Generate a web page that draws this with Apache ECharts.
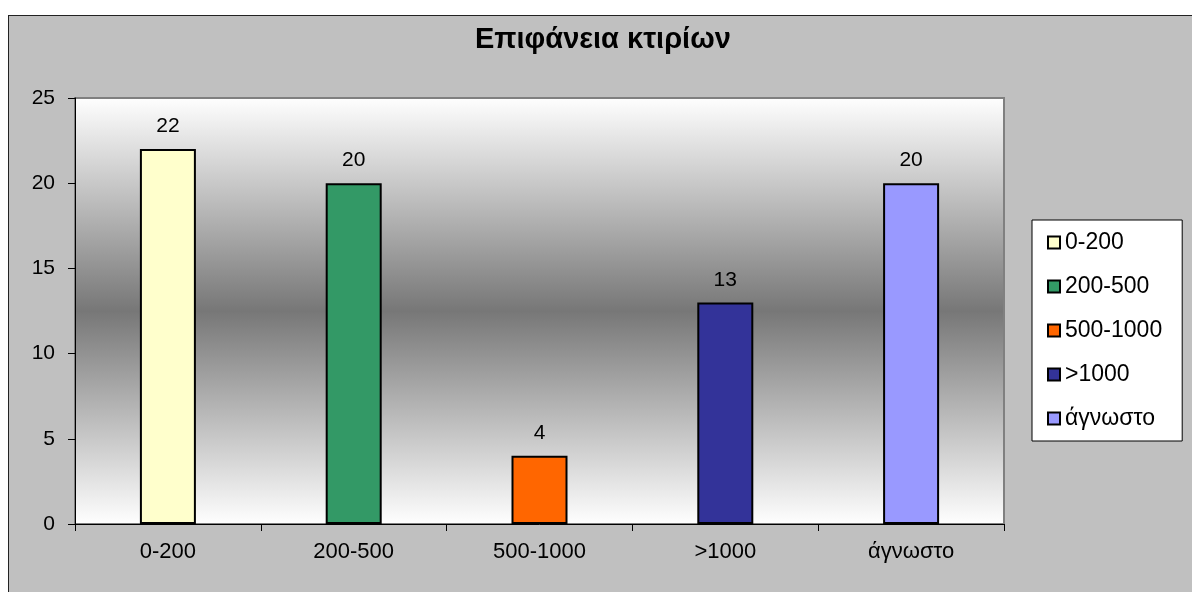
<!DOCTYPE html>
<html>
<head>
<meta charset="utf-8">
<script src="https://cdn.jsdelivr.net/npm/echarts@6/dist/echarts.min.js"></script>
<style>
  html, body { margin: 0; padding: 0; width: 1192px; height: 592px; overflow: hidden; background: #ffffff; }
  #frame { position: absolute; left: 8px; top: 15px; width: 1200px; height: 600px; border: 1px solid #222; background: #c0c0c0; }
  #chart { width: 1200px; height: 600px; }
</style>
</head>
<body>
<div id="frame"><div id="chart"></div></div>
<script>
const title = 'Επιφάνεια κτιρίων';
const categories = ['0-200', '200-500', '500-1000', '>1000', 'άγνωστο'];
const values = [22, 20, 4, 13, 20];
const colors = ['#FFFFCC', '#339966', '#FF6600', '#333399', '#9999FF'];
const yTicks = { min: 0, max: 25, interval: 5 };

const font = 'Liberation Sans, Arial, sans-serif';
const chart = echarts.init(document.getElementById('chart'));

const series = categories.map((name, i) => ({
  name: name,
  type: 'bar',
  stack: 'all',
  barWidth: 56,
  data: categories.map((c, j) => (j === i ? values[i] : '-')),
  itemStyle: { color: colors[i], borderColor: '#000', borderWidth: 2 },
  label: {
    show: true, position: 'top', distance: 12,
    color: '#000', fontSize: 21, fontFamily: font
  }
}));

chart.setOption({
  animation: false,
  backgroundColor: 'transparent',
  title: {
    text: title, left: 461, top: 4,
    textStyle: { fontSize: 29, fontWeight: 'bold', color: '#000', fontFamily: font }
  },
  legend: {
    orient: 'vertical', left: 1023, top: 204,
    data: categories,
    backgroundColor: '#fff', borderColor: '#000', borderWidth: 1,
    padding: [11, 20, 11, 15],
    itemGap: 21, itemWidth: 12, itemHeight: 12, icon: 'rect',
    itemStyle: { borderColor: '#000', borderWidth: 2 },
    textStyle: { fontSize: 23, color: '#000', fontFamily: font }
  },
  grid: {
    left: 66, top: 82, right: 205, bottom: 92,
    show: true, borderColor: '#808080', borderWidth: 2,
    backgroundColor: {
      type: 'linear', x: 0, y: 0, x2: 0, y2: 1,
      colorStops: [
        { offset: 0, color: '#ffffff' },
        { offset: 0.5, color: '#777777' },
        { offset: 1, color: '#ffffff' }
      ]
    }
  },
  xAxis: {
    type: 'category', data: categories,
    axisLine: { show: true, lineStyle: { color: '#000', width: 1 } },
    axisTick: { show: true, length: 7, lineStyle: { color: '#000' } },
    axisLabel: { color: '#000', fontSize: 22, fontFamily: font, margin: 17 },
    splitLine: { show: false }
  },
  yAxis: {
    type: 'value', min: yTicks.min, max: yTicks.max, interval: yTicks.interval,
    axisLine: { show: true, lineStyle: { color: '#000', width: 1 } },
    axisTick: { show: true, length: 7, lineStyle: { color: '#000' } },
    axisLabel: { color: '#000', fontSize: 21, fontFamily: font, margin: 20 },
    splitLine: { show: false }
  },
  series: series
});
</script>
</body>
</html>
